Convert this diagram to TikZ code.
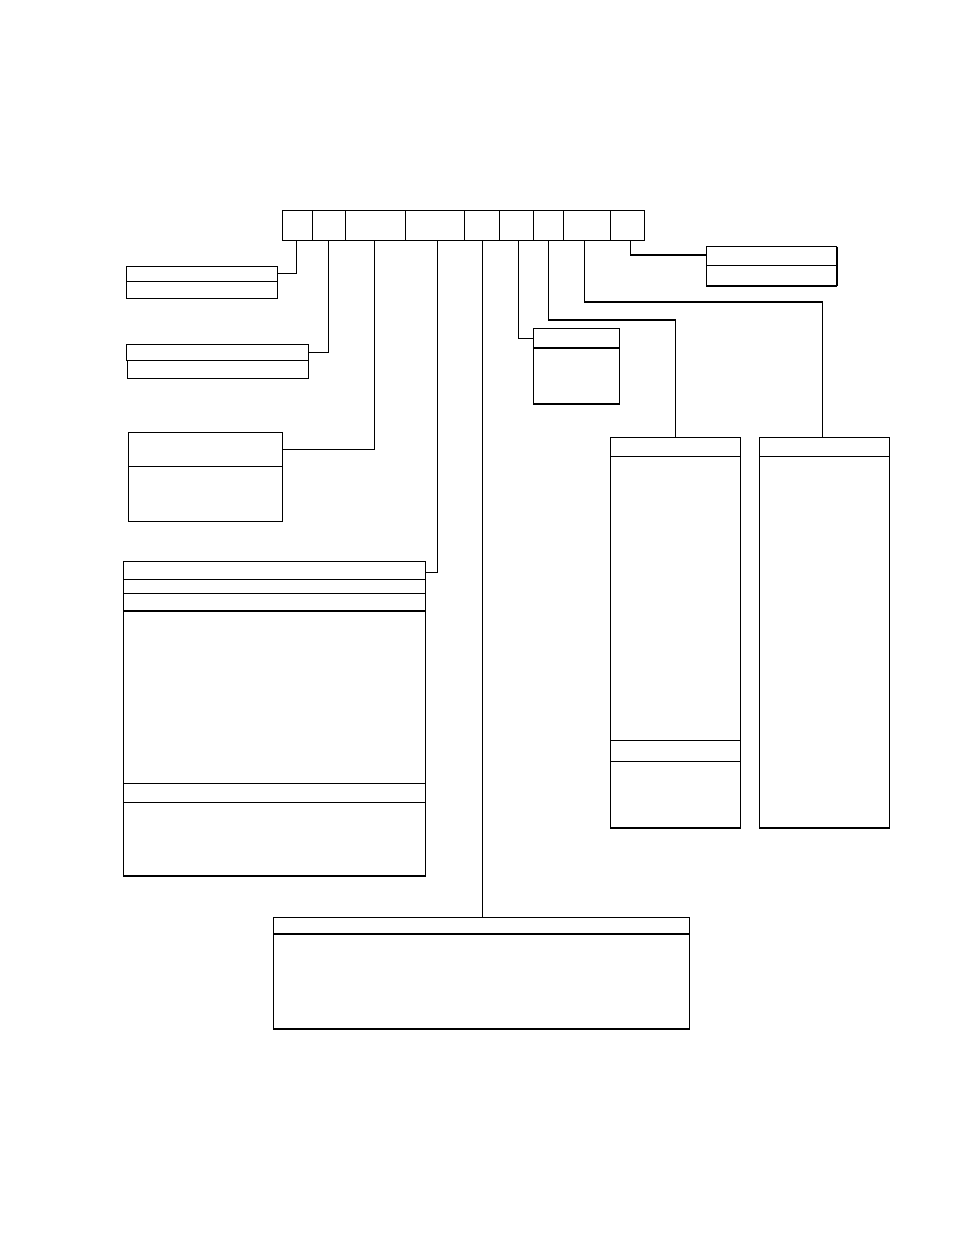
\documentclass[tikz,border=0pt]{standalone}
\usetikzlibrary{calc}
\tikzset{
  bx/.style={draw, line width=0.8pt, inner sep=0pt, outer sep=0pt, anchor=north west},
  conn/.style={draw, line width=0.8pt},
  thickrule/.style={draw, line width=1.6pt}
}
\newcommand\mkbox[5]{\node[bx, minimum width={(#4-#2)*0.75pt}, minimum height={(#5-#3)*0.75pt}] (#1) at (#2,#3) {};}
\begin{document}
\begin{tikzpicture}[x=0.75pt,y=-0.75pt]
\useasboundingbox (0,0) rectangle (954,1235);
% top row of cells
\mkbox{c1}{282.3}{210.3}{312.3}{240.7}
\mkbox{c2}{312.3}{210.3}{345.7}{240.7}
\mkbox{c3}{345.7}{210.3}{405.3}{240.7}
\mkbox{c4}{405.3}{210.3}{464.7}{240.7}
\mkbox{c5}{464.7}{210.3}{499.7}{240.7}
\mkbox{c6}{499.7}{210.3}{533.7}{240.7}
\mkbox{c7}{533.7}{210.3}{563.3}{240.7}
\mkbox{c8}{563.3}{210.3}{610.3}{240.7}
\mkbox{c9}{610.3}{210.3}{644.7}{240.7}
% box 1
\mkbox{b1a}{126.3}{266.3}{277.3}{281.3}
\mkbox{b1b}{126.3}{281.3}{277.3}{298.3}
% box 2
\mkbox{b2a}{126.3}{344.3}{308.3}{360.3}
\mkbox{b2b}{127.3}{360.3}{308.3}{378.3}
% box 3
\mkbox{b3a}{128.3}{432.3}{282.7}{466.3}
\mkbox{b3b}{128.3}{466.3}{282.7}{521.3}
% box 4
\mkbox{b4a}{123.3}{561.7}{425.3}{579.3}
\mkbox{b4b}{123.3}{579.3}{425.3}{593.3}
\mkbox{b4c}{123.3}{593.3}{425.3}{611.0}
\mkbox{b4d}{123.3}{611.0}{425.3}{783.7}
\mkbox{b4e}{123.3}{783.7}{425.3}{802.3}
\mkbox{b4f}{123.3}{802.3}{425.3}{876.0}
\draw[thickrule] (b4d.north west) -- (b4d.north east);
% box 5
\mkbox{b5a}{533.3}{328.3}{619.3}{348.3}
\mkbox{b5b}{533.3}{348.3}{619.3}{404.0}
\draw[thickrule] (b5b.north west) -- (b5b.north east);
% box 6
\mkbox{b6a}{610.3}{437.3}{740.3}{456.3}
\mkbox{b6b}{610.3}{456.3}{740.3}{740.3}
\mkbox{b6c}{610.3}{740.3}{740.3}{761.3}
\mkbox{b6d}{610.3}{761.3}{740.3}{828.0}
% box 7
\mkbox{b7a}{759.7}{437.3}{889.3}{456.3}
\mkbox{b7b}{759.7}{456.3}{889.3}{828.0}
% box 8
\mkbox{b8a}{706.3}{246.7}{836.7}{265.3}
\mkbox{b8b}{706.3}{265.3}{836.7}{286.0}
\draw[thickrule] (b8a.north east) -- (b8b.south east);
% box 9
\mkbox{b9a}{273.3}{917.3}{689.3}{934.0}
\mkbox{b9b}{273.3}{934.0}{689.3}{1029.0}
% connectors
\draw[conn] ($(c1.south)+(-0.7,0)$) |- (b1a.east);
\draw[conn] ($(c2.south)+(-0.7,0)$) |- (b2a.east);
\draw[conn] ($(c3.south)+(-0.8,0)$) |- (b3a.east);
\draw[conn] ($(c4.south)+(2.3,0)$) |- ($(b4a.east)+(0,1.8)$);
\draw[conn] (c5.south) -- (c5.south |- b9a.north);
\draw[conn] ($(c6.south)+(2,0)$) |- (b5a.west);
\draw[conn] (c7.south) -- ++(0,79.3) -| (b6a.north);
\draw[conn] ($(c8.south)+(-2.5,0)$) -- ++(0,61.3) -| ($(b7a.north)+(-2.2,0)$);
\draw[conn] ($(c9.south)+(3.3,0)$) |- ($(b8a.west)+(0,-1)$);
\end{tikzpicture}
\end{document}
